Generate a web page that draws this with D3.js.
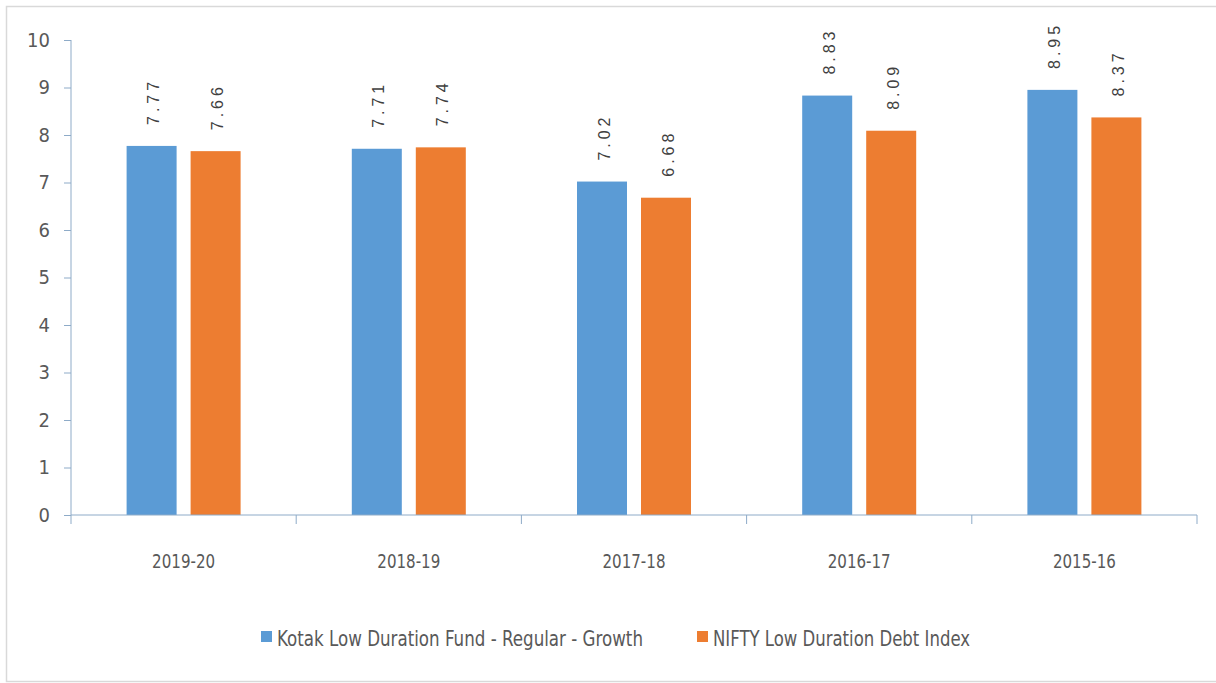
<!DOCTYPE html>
<html>
<head>
<meta charset="utf-8">
<script src="https://cdn.jsdelivr.net/npm/d3@7"></script>
<style>
  body { margin: 0; background: #fff; }
  svg { display: block; }
  .tick text { fill: #595959; }
</style>
</head>
<body>
<div id="chart"></div>
<script>
const years = ['2019-20', '2018-19', '2017-18', '2016-17', '2015-16'];
const seriesNames = ['Kotak Low Duration Fund - Regular - Growth', 'NIFTY Low Duration Debt Index'];
const fundReturns = [7.77, 7.71, 7.02, 8.83, 8.95];
const indexReturns = [7.66, 7.74, 6.68, 8.09, 8.37];
const yTicks = [0, 1, 2, 3, 4, 5, 6, 7, 8, 9, 10];
const colors = ['#5b9bd5', '#ed7d31'];

function main() {
  const svgWidth = 1216;
  const svgHeight = 683;
  const margin = { top: 40, left: 71, right: 19, bottom: 168 };
  const chartWidth = svgWidth - margin.left - margin.right;
  const chartHeight = svgHeight - margin.top - margin.bottom;

  const svg = d3.select('#chart').append('svg')
    .attr('width', svgWidth)
    .attr('height', svgHeight);

  // outer frame of the pasted picture
  svg.append('path')
    .attr('d', `M${svgWidth},6.5 H6.5 V681.5 H${svgWidth}`)
    .attr('fill', 'none')
    .attr('stroke', '#d9d9d9')
    .attr('stroke-width', 1.5);

  const chartGroup = svg.append('g').attr('transform', `translate(${margin.left}, ${margin.top})`);

  const x0 = d3.scaleBand().domain(years).range([0, chartWidth]).padding(0);
  const groupWidth = 114;
  const x1 = d3.scaleBand().domain([0, 1])
    .range([(x0.bandwidth() - groupWidth) / 2, (x0.bandwidth() + groupWidth) / 2])
    .paddingInner(0.21875);
  const y = d3.scaleLinear().domain([0, 10]).range([chartHeight, 0]);

  const axisColor = '#8eabc8';

  const yAxis = chartGroup.append('g')
    .call(d3.axisLeft(y).tickValues(yTicks).tickSize(7).tickPadding(14).tickFormat(d3.format('d')));
  yAxis.select('.domain').attr('stroke', axisColor).attr('d', `M0,0V${chartHeight}`);
  yAxis.selectAll('.tick line').attr('stroke', axisColor);
  yAxis.selectAll('.tick text')
    .attr('font-family', '"Liberation Sans Narrow", "DejaVu Sans Condensed", sans-serif')
    .attr('font-size', '20px');

  const rows = years.map((yr, i) => ({ year: yr, values: [fundReturns[i], indexReturns[i]] }));

  const groups = chartGroup.selectAll('.group')
    .data(rows)
    .enter()
    .append('g')
    .attr('class', 'group')
    .attr('transform', d => `translate(${x0(d.year)}, 0)`);

  groups.selectAll('rect')
    .data(d => d.values.map((v, k) => ({ k: k, v: v })))
    .enter()
    .append('rect')
    .attr('x', d => x1(d.k))
    .attr('y', d => y(d.v))
    .attr('width', x1.bandwidth())
    .attr('height', d => chartHeight - y(d.v))
    .attr('fill', d => colors[d.k]);

  groups.selectAll('.value')
    .data(d => d.values.map((v, k) => ({ k: k, v: v })))
    .enter()
    .append('text')
    .attr('class', 'value')
    .attr('transform', d => `translate(${x1(d.k) + x1.bandwidth() / 2 + 2}, ${y(d.v) - 21}) rotate(-90)`)
    .attr('dy', '0.35em')
    .attr('font-family', '"Liberation Sans", Arial, sans-serif')
    .attr('font-size', '16px')
    .attr('fill', '#404040')
    .attr('textLength', 43)
    .attr('lengthAdjust', 'spacing')
    .text(d => d.v.toFixed(2));

  const xAxis = chartGroup.append('g')
    .attr('transform', `translate(0, ${chartHeight})`)
    .call(d3.axisBottom(x0).tickSize(0).tickPadding(0));
  xAxis.select('.domain').attr('stroke', axisColor).attr('d', `M0,0H${chartWidth}`);
  xAxis.selectAll('.tick text')
    .attr('y', 53)
    .attr('dy', 0)
    .attr('font-family', '"Liberation Sans Narrow", "DejaVu Sans Condensed", sans-serif')
    .attr('font-size', '20px')
    .attr('textLength', 63)
    .attr('lengthAdjust', 'spacingAndGlyphs');

  // category separator ticks
  chartGroup.append('g').selectAll('line')
    .data(years.concat(['end']))
    .enter()
    .append('line')
    .attr('x1', d => d === 'end' ? chartWidth : x0(d))
    .attr('x2', d => d === 'end' ? chartWidth : x0(d))
    .attr('y1', chartHeight)
    .attr('y2', chartHeight + 9)
    .attr('stroke', axisColor);

  // legend
  const legendX = [261, 697];
  const legendWidths = [366, 257];
  const legend = svg.append('g').selectAll('g')
    .data(seriesNames)
    .enter()
    .append('g')
    .attr('transform', (d, i) => `translate(${legendX[i]}, 631)`);

  legend.append('rect')
    .attr('width', 11)
    .attr('height', 11)
    .attr('fill', (d, i) => colors[i]);

  legend.append('text')
    .attr('x', 16)
    .attr('y', 15)
    .attr('font-family', '"Liberation Sans Narrow", "DejaVu Sans Condensed", sans-serif')
    .attr('font-size', '21px')
    .attr('fill', '#595959')
    .attr('textLength', (d, i) => legendWidths[i])
    .attr('lengthAdjust', 'spacingAndGlyphs')
    .text(d => d);
}

main();
</script>
</body>
</html>
